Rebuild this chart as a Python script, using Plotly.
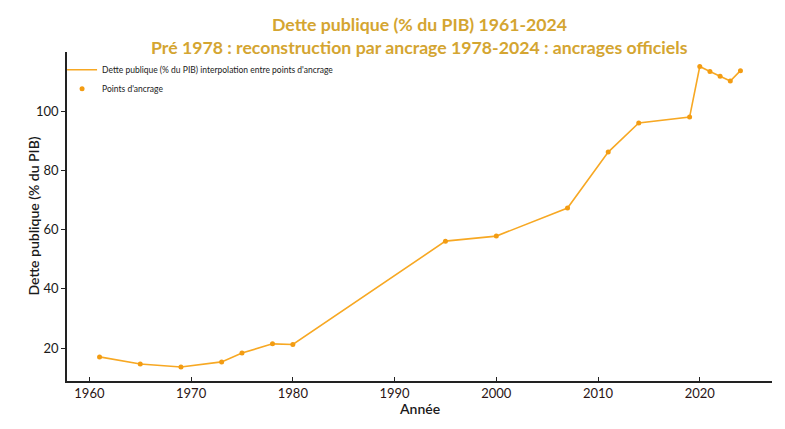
import plotly.graph_objects as go

years = [1961, 1965, 1969, 1973, 1975, 1978, 1980, 1995, 2000, 2007, 2011, 2014, 2019, 2020, 2021, 2022, 2023, 2024]
debt = [17.0, 14.6, 13.6, 15.3, 18.3, 21.4, 21.2, 56.1, 57.8, 67.3, 86.2, 96.0, 98.0, 115.1, 113.4, 111.8, 110.2, 113.7]

x_ticks = [1960, 1970, 1980, 1990, 2000, 2010, 2020]
y_ticks = [20, 40, 60, 80, 100]

title_lines = [
    "Dette publique (% du PIB) 1961-2024",
    "Pré 1978 : reconstruction par ancrage 1978-2024 : ancrages officiels",
]
x_title = "Année"
y_title = "Dette publique (% du PIB)"

line_color = "#F7A823"
marker_color = "#F39C12"
title_color = "#D4A531"
font_family = "Lato, 'Open Sans', sans-serif"

fig = go.Figure()
fig.add_trace(go.Scatter(
    x=years, y=debt, mode="lines",
    line=dict(color=line_color, width=1.6),
    name="Dette publique (% du PIB) interpolation entre points d'ancrage",
))
fig.add_trace(go.Scatter(
    x=years, y=debt, mode="markers",
    marker=dict(color=marker_color, size=5),
    name="Points d'ancrage",
))

for txt, yy in zip(title_lines, [1.085, 1.015]):
    fig.add_annotation(
        text=txt, xref="paper", yref="paper", x=0.5, y=yy,
        xanchor="center", yanchor="middle", showarrow=False,
        font=dict(size=17.7, color=title_color, family=font_family, weight="bold"),
    )

fig.add_annotation(
    text=y_title, xref="paper", yref="paper", x=0, y=0.5,
    xanchor="center", yanchor="middle", xshift=-34, textangle=-90,
    showarrow=False, font=dict(size=14, color="#1a1a1a", weight=600),
)
fig.add_annotation(
    text=x_title, xref="paper", yref="paper", x=0.5, y=0,
    xanchor="center", yanchor="middle", yshift=-27,
    showarrow=False, font=dict(size=14, color="#1a1a1a", weight=600),
)

fig.update_layout(
    width=785, height=429,
    margin=dict(l=59, r=21, t=44, b=56, autoexpand=False),
    plot_bgcolor="white", paper_bgcolor="white",
    font=dict(family=font_family, color="#1a1a1a"),
    showlegend=True,
    legend=dict(
        x=-0.007, y=0.99, xanchor="left", yanchor="top",
        bgcolor="rgba(0,0,0,0)",
        font=dict(size=8.5, color="#1a1a1a"),
        itemwidth=30, tracegroupgap=5,
    ),
    xaxis=dict(
        range=[1957.8, 2027.1], automargin=False,
        tickvals=x_ticks,
        showgrid=False, zeroline=False,
        showline=True, linecolor="#222222", linewidth=1.5,
        ticks="inside", ticklen=4, tickcolor="#222222",
        tickfont=dict(size=13, color="#2a1414"),
    ),
    yaxis=dict(
        range=[8.85, 120], automargin=False,
        tickvals=y_ticks,
        showgrid=False, zeroline=False,
        showline=True, linecolor="#222222", linewidth=1.5,
        ticks="outside", ticklen=4, tickcolor="#222222",
        tickfont=dict(size=13, color="#1a1a1a"),
    ),
)

fig.write_html("out.html")
